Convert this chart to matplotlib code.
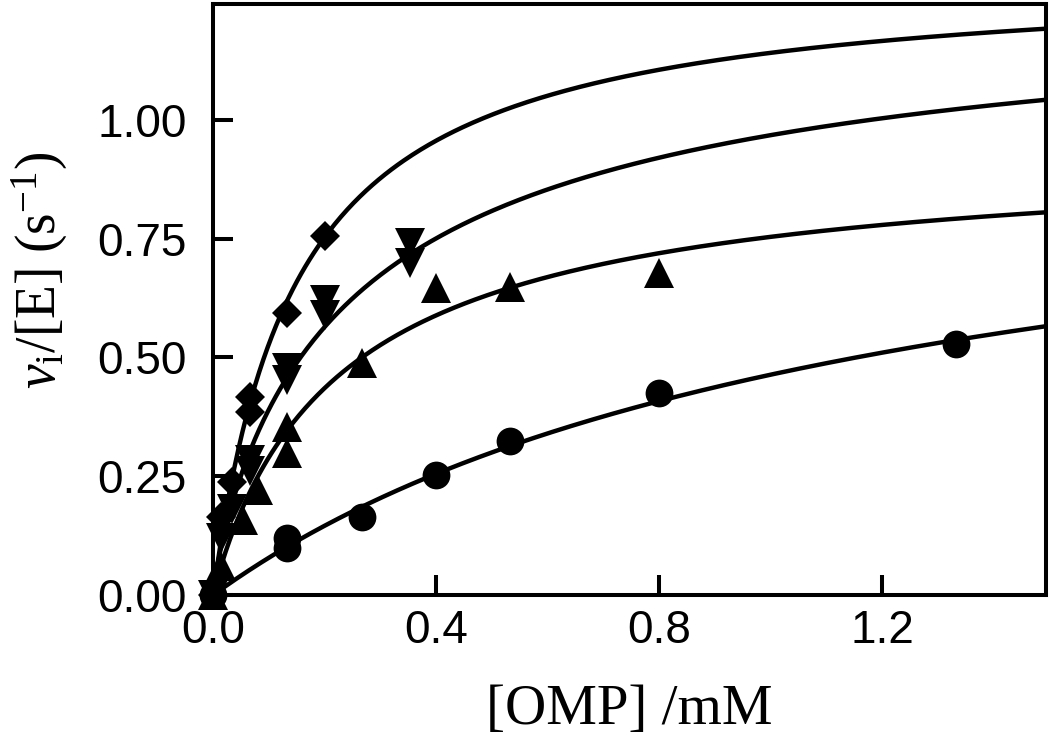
import numpy as np
import matplotlib
matplotlib.use("Agg")
import matplotlib.pyplot as plt

# ---------------- data ----------------
dia_x = [0.0, 0.0133, 0.0333, 0.0667, 0.0667, 0.133, 0.200]
dia_y = [0.0, 0.165, 0.238, 0.385, 0.417, 0.594, 0.756]

tdn_x = [0.0, 0.0133, 0.0333, 0.0667, 0.0667, 0.133, 0.133, 0.200, 0.200, 0.353, 0.353]
tdn_y = [0.0, 0.120, 0.180, 0.260, 0.284, 0.453, 0.478, 0.590, 0.620, 0.699, 0.741]

tup_x = [0.0, 0.0133, 0.0533, 0.080, 0.133, 0.133, 0.267, 0.400, 0.533, 0.800]
tup_y = [0.0, 0.060, 0.158, 0.221, 0.298, 0.354, 0.488, 0.646, 0.649, 0.678]

cir_x = [0.0, 0.133, 0.133, 0.267, 0.400, 0.533, 0.800, 1.333]
cir_y = [0.0, 0.099, 0.120, 0.164, 0.253, 0.324, 0.425, 0.528]

# fitted curve parameters (Vmax, K, Hill n) for each series
fit_vmax = [1.31, 1.29, 0.945, 1.02]
fit_k = [0.148, 0.270, 0.236, 1.20]
fit_n = [1.00, 0.84, 0.95, 1.00]

xticks = [0.0, 0.4, 0.8, 1.2]
yticks = [0.00, 0.25, 0.50, 0.75, 1.00]
xtick_labels = ["0.0", "0.4", "0.8", "1.2"]
ytick_labels = ["0.00", "0.25", "0.50", "0.75", "1.00"]

# ---------------- style ----------------
plt.rcParams['mathtext.fontset'] = 'custom'
plt.rcParams['mathtext.rm'] = 'Liberation Serif'
plt.rcParams['mathtext.it'] = 'Liberation Serif:italic'

fig = plt.figure(figsize=(10.5, 7.36), dpi=100)
ax = fig.add_axes([0.203, 0.1916, 0.793, 0.803])

xs = np.linspace(0, 1.5, 400)
for V, K, n in zip(fit_vmax, fit_k, fit_n):
    ax.plot(xs, V * xs**n / (K**n + xs**n), color='black', lw=3.2, zorder=2)

ax.plot(cir_x, cir_y, 'o', color='black', ms=20, mew=0, zorder=3, clip_on=False)
ax.plot(tup_x, tup_y, '^', color='black', ms=21, mew=0, zorder=3, clip_on=False)
ax.plot(tdn_x, tdn_y, 'v', color='black', ms=21, mew=0, zorder=3, clip_on=False)
ax.plot(dia_x, dia_y, 'D', color='black', ms=15, mew=0, zorder=3, clip_on=False)

ax.set_xlim(0, 1.494)
ax.set_ylim(0, 1.244)
ax.set_xticks(xticks)
ax.set_xticklabels(xtick_labels, fontfamily='Liberation Sans', fontsize=33)
ax.set_yticks(yticks)
ax.set_yticklabels(ytick_labels, fontfamily='Liberation Sans', fontsize=33)
ax.tick_params(direction='in', length=14.4, width=2.9, colors='black')
ax.tick_params(axis='y', pad=19)
ax.tick_params(axis='x', pad=10)
for s in ax.spines.values():
    s.set_linewidth(2.9)

ax.set_xlabel("[OMP] /mM", fontfamily='Liberation Serif', fontsize=41)
ax.set_ylabel(r"$\mathit{v}_{\mathrm{i}}\mathrm{/[E]\ (s}^{\mathrm{-1}}\mathrm{)}$", fontsize=40)
ax.yaxis.set_label_coords(-0.172, 0.55)
ax.xaxis.set_label_coords(0.5, -0.150)

fig.savefig("out.png", dpi=100)
